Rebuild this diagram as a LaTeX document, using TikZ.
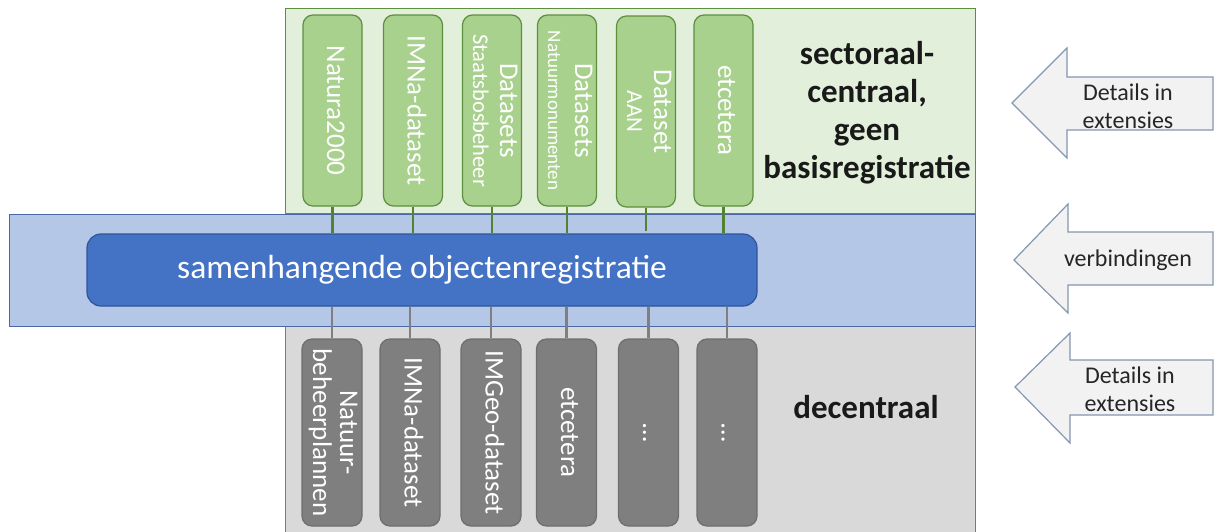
\documentclass[tikz,border=0pt]{standalone}
\usepackage{fontspec}
\setmainfont{Carlito}
\definecolor{gbandfill}{HTML}{E2EFDA}
\definecolor{gbanddraw}{HTML}{5E8F3E}
\definecolor{gboxfill}{HTML}{A9D18E}
\definecolor{gboxdraw}{HTML}{5E8F3E}
\definecolor{gline}{HTML}{548235}
\definecolor{bbandfill}{HTML}{B4C7E7}
\definecolor{bbanddraw}{HTML}{4A68A3}
\definecolor{sorfill}{HTML}{4472C4}
\definecolor{sordraw}{HTML}{2F5597}
\definecolor{graybandfill}{HTML}{D9D9D9}
\definecolor{graybanddraw}{HTML}{5B7DB8}
\definecolor{grayboxfill}{HTML}{7F7F7F}
\definecolor{grayboxdraw}{HTML}{6E6E6E}
\definecolor{grayline}{HTML}{7F7F7F}
\definecolor{arrfill}{HTML}{F2F2F2}
\definecolor{arrdraw}{HTML}{8497B0}
\newcommand{\vtext}[1]{\rotatebox{-90}{\begin{tabular}{@{}c@{}}#1\end{tabular}}}
\begin{document}
\begin{tikzpicture}[x=1pt,y=-1pt,
  band/.style={draw, line width=1pt, inner sep=0pt},
  gbox/.style={draw=gboxdraw, fill=gboxfill, line width=1.2pt, rounded corners=10pt,
    inner sep=0pt, minimum width=59pt, minimum height=191pt, text=white,
    font=\fontsize{27}{27}\selectfont},
  graybox/.style={draw=grayboxdraw, fill=grayboxfill, line width=1.2pt, rounded corners=10pt,
    inner sep=0pt, minimum width=60pt, minimum height=187pt, text=white,
    font=\fontsize{27}{27}\selectfont},
  gconn/.style={draw=gline, line width=2.5pt},
  grayconn/.style={draw=grayline, line width=2.5pt},
  bigarrow/.style={draw=arrdraw, fill=arrfill, line width=1.2pt, line join=miter},
  arrtext/.style={align=center, font=\fontsize{24}{28}\selectfont, text=black!85},
  boldtext/.style={align=center, font=\bfseries\fontsize{33}{38}\selectfont, text=black!90}
]
\useasboundingbox (0,0) rectangle (1215,531);
\fill[white] (0,0) rectangle (1215,531);

% bands
\node[band, draw=gbanddraw, fill=gbandfill, minimum width=690pt, minimum height=205pt] (gband) at (630,110.5) {};
\node[band, draw=graybanddraw, fill=graybandfill, minimum width=690pt, minimum height=220pt] (grayband) at (630,435) {};
\node[band, draw=bbanddraw, fill=bbandfill, minimum width=966pt, minimum height=112pt] (bband) at (492,270) {};

% central registration
\node[draw=sordraw, fill=sorfill, line width=1.2pt, rounded corners=14pt, minimum width=670pt,
  minimum height=72pt, text=white, font=\fontsize{33.5}{36}\selectfont] (sor) at (422,270)
  {samenhangende objectenregistratie};

% green boxes
\node[gbox] (g1) at (332.5,110.5) {\vtext{Natura2000}};
\node[gbox] (g2) at (413,110.5) {\vtext{IMNa-dataset}};
\node[gbox] (g3) at (492,110.5) {\vtext{Datasets\\{\fontsize{22.5}{24}\selectfont Staatsbosbeheer}}};
\node[gbox] (g4) at (567,110.5) {\vtext{Datasets\\{\fontsize{19}{20}\selectfont Natuurmonumenten}}};
\node[gbox] (g5) at (646,111.5) {\vtext{Dataset\\{\fontsize{23}{23}\selectfont AAN}}};
\node[gbox] (g6) at (723.5,110.5) {\vtext{etcetera}};

% gray boxes
\node[graybox] (d1) at (332,432.5) {\vtext{Natuur-\\beheerplannen}};
\node[graybox] (d2) at (410,432.5) {\vtext{IMNa-dataset}};
\node[graybox] (d3) at (491,432.5) {\vtext{IMGeo-dataset}};
\node[graybox] (d4) at (566.5,432.5) {\vtext{etcetera}};
\node[graybox] (d5) at (648.5,432.5) {\vtext{…}};
\node[graybox] (d6) at (727,432.5) {\vtext{…}};

% connectors top
\draw[gconn] (g1.south) -- (g1.south |- sor.north);
\draw[gconn] (g2.south) -- (g2.south |- sor.north);
\draw[gconn] (g3.south) -- (g3.south |- sor.north);
\draw[gconn] (g4.south) -- (g4.south |- sor.north);
\coordinate (g5end) at (646,231);
\draw[gconn] (g5.south) -- (g5end);
\draw[gconn] (g6.south) -- (g6.south |- sor.north);

% connectors bottom
\draw[grayconn] (d1.north |- sor.south) -- (d1.north);
\draw[grayconn] (d2.north |- sor.south) -- (d2.north);
\draw[grayconn] (d3.north |- sor.south) -- (d3.north);
\draw[grayconn] (d4.north |- sor.south) -- (d4.north);
\draw[grayconn] (d5.north |- sor.south) -- (d5.north);
\draw[grayconn] (d6.north |- sor.south) -- (d6.north);

% layer labels
\node[boldtext] (lab1) at (867,113) {sectoraal-\\centraal,\\geen\\basisregistratie};
\node[boldtext] (lab3) at (866,407) {decentraal};

% arrows
\draw[bigarrow] (1213,77) -- (1067,77) -- (1067,48) -- (1012,103) -- (1067,158) -- (1067,130) -- (1213,130) -- cycle;
\draw[bigarrow] (1213,232) -- (1068,232) -- (1068,204) -- (1014,260) -- (1068,313) -- (1068,285) -- (1213,285) -- cycle;
\draw[bigarrow] (1213,360) -- (1070,360) -- (1070,333) -- (1015,387) -- (1070,443) -- (1070,415) -- (1213,415) -- cycle;
\node[arrtext] (a1) at (1128,106) {Details in\\extensies};
\node[arrtext] (a2) at (1128,260) {verbindingen};
\node[arrtext] (a3) at (1130,389) {Details in\\extensies};
\end{tikzpicture}
\end{document}
